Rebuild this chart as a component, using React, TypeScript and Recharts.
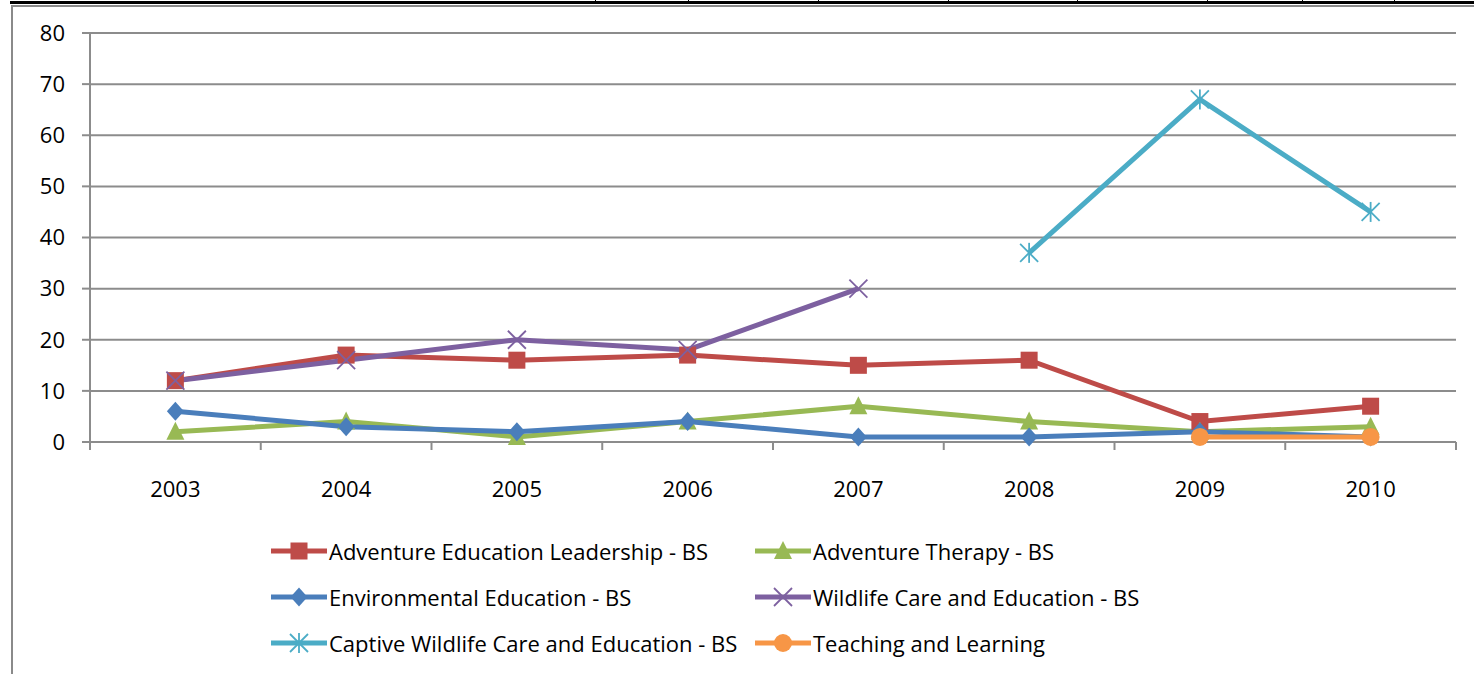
import { LineChart, Line, XAxis, YAxis, CartesianGrid, Legend } from "recharts";

const years = ["2003", "2004", "2005", "2006", "2007", "2008", "2009", "2010"];
const adventureLeadership = [12, 17, 16, 17, 15, 16, 4, 7];
const adventureTherapy = [2, 4, 1, 4, 7, 4, 2, 3];
const environmentalEd = [6, 3, 2, 4, 1, 1, 2, 1];
const wildlifeCare = [12, 16, 20, 18, 30, null, null, null];
const captiveWildlife = [null, null, null, null, null, 37, 67, 45];
const teachingLearning = [null, null, null, null, null, null, 1, 1];
const yTicks = [0, 10, 20, 30, 40, 50, 60, 70, 80];
const tableMarks = [595, 688, 818, 948, 1077, 1207, 1302, 1394];

const FONT = "'Open Sans', Lato, sans-serif";
const GRID = "#8c8c8c";

type Marker = "square" | "triangle" | "diamond" | "x" | "star" | "circle";

const series: { key: string; name: string; color: string; marker: Marker; values: (number | null)[] }[] = [
  { key: "ael", name: "Adventure Education Leadership - BS", color: "#BE4B48", marker: "square", values: adventureLeadership },
  { key: "at", name: "Adventure Therapy - BS", color: "#98B954", marker: "triangle", values: adventureTherapy },
  { key: "ee", name: "Environmental Education - BS", color: "#4A7EBB", marker: "diamond", values: environmentalEd },
  { key: "wce", name: "Wildlife Care and Education - BS", color: "#7D60A0", marker: "x", values: wildlifeCare },
  { key: "cwce", name: "Captive Wildlife Care and Education - BS", color: "#4BACC6", marker: "star", values: captiveWildlife },
  { key: "tl", name: "Teaching and Learning", color: "#F79646", marker: "circle", values: teachingLearning },
];

const data = years.map((year, i) => {
  const row: Record<string, string | number | null> = { year };
  series.forEach((s) => {
    row[s.key] = s.values[i];
  });
  return row;
});

function MarkerShape({ cx, cy, color, marker }: { cx: number; cy: number; color: string; marker: Marker }) {
  switch (marker) {
    case "square":
      return <rect x={cx - 8.5} y={cy - 8.5} width={17} height={17} fill={color} />;
    case "triangle":
      return <polygon points={`${cx},${cy - 10} ${cx + 9},${cy + 8} ${cx - 9},${cy + 8}`} fill={color} />;
    case "diamond":
      return <polygon points={`${cx},${cy - 9.5} ${cx + 8.5},${cy} ${cx},${cy + 9.5} ${cx - 8.5},${cy}`} fill={color} />;
    case "x":
      return (
        <g stroke={color} strokeWidth={1.8}>
          <line x1={cx - 9} y1={cy - 9} x2={cx + 9} y2={cy + 9} />
          <line x1={cx - 9} y1={cy + 9} x2={cx + 9} y2={cy - 9} />
        </g>
      );
    case "star":
      return (
        <g stroke={color} strokeWidth={1.8}>
          <line x1={cx - 9} y1={cy - 9} x2={cx + 9} y2={cy + 9} />
          <line x1={cx - 9} y1={cy + 9} x2={cx + 9} y2={cy - 9} />
          <line x1={cx} y1={cy - 10} x2={cx} y2={cy + 10} />
        </g>
      );
    default:
      return <circle cx={cx} cy={cy} r={9} fill={color} />;
  }
}

function makeDot(color: string, marker: Marker) {
  return (props: any) => {
    const { cx, cy, value, index } = props;
    if (value == null || cx == null || cy == null) return <g key={`e-${index}`} />;
    return (
      <g key={`d-${index}`}>
        <MarkerShape cx={cx} cy={cy} color={color} marker={marker} />
      </g>
    );
  };
}

// category label plus Excel-style tick marks on the band edges
function YearTick(props: any) {
  const { x, y, payload, index } = props;
  const half = payload?.offset ?? 0;
  const axisY = y - 39;
  return (
    <g>
      <line x1={x - half} y1={axisY} x2={x - half} y2={axisY + 8} stroke={GRID} strokeWidth={2} />
      {index === years.length - 1 && (
        <line x1={x + half} y1={axisY} x2={x + half} y2={axisY + 8} stroke={GRID} strokeWidth={2} />
      )}
      <text x={x} y={y} dy="0.71em" textAnchor="middle" fill="#000" fontSize={22} fontFamily={FONT}>
        {payload.value}
      </text>
    </g>
  );
}

function LegendContent() {
  return (
    <div
      style={{
        display: "grid",
        gridTemplateColumns: "484px auto",
        gridAutoRows: "46px",
        paddingLeft: 271,
        fontFamily: FONT,
        fontSize: 22,
        color: "#000",
      }}
    >
      {series.map((s) => (
        <div key={s.key} style={{ display: "flex", alignItems: "center", height: 46 }}>
          <svg width={58} height={24}>
            <line x1={0} y1={12} x2={56} y2={12} stroke={s.color} strokeWidth={5} />
            <MarkerShape cx={28} cy={12} color={s.color} marker={s.marker} />
          </svg>
          <span style={{ whiteSpace: "nowrap" }}>{s.name}</span>
        </div>
      ))}
    </div>
  );
}

export default function App() {
  return (
    <div style={{ position: "absolute", left: 0, top: 0, width: 1474, height: 674, overflow: "hidden", background: "#fff" }}>
      <div style={{ position: "absolute", left: 10, top: 1, right: 0, height: 3, background: "#000" }} />
      {tableMarks.map((x) => (
        <div key={x} style={{ position: "absolute", left: x, top: 0, width: 1, height: 2, background: "#000" }} />
      ))}
      <div
        style={{
          position: "absolute",
          left: 11,
          top: 5,
          width: 1474,
          height: 700,
          borderTop: "2px solid #8a8a8a",
          borderLeft: "2px solid #8a8a8a",
        }}
      />
      <div style={{ position: "absolute", left: 0, top: 0 }}>
        <LineChart width={1474} height={674} data={data} margin={{ top: 33, right: 18, bottom: 172, left: 0 }}>
          <CartesianGrid horizontal vertical={false} stroke={GRID} strokeWidth={2} />
          <XAxis
            dataKey="year"
            scale="band"
            height={60}
            axisLine={{ stroke: GRID, strokeWidth: 2 }}
            tickLine={false}
            tickSize={0}
            tickMargin={39}
            interval={0}
            tick={<YearTick />}
          />
          <YAxis
            domain={[0, 80]}
            ticks={yTicks}
            width={90}
            axisLine={{ stroke: GRID, strokeWidth: 2 }}
            tickLine={{ stroke: GRID, strokeWidth: 2 }}
            tickSize={8}
            tickMargin={17}
            tick={{ fill: "#000", fontSize: 22, fontFamily: FONT }}
          />
          <Legend
            layout="vertical"
            align="center"
            verticalAlign="middle"
            wrapperStyle={{ top: 528, left: 0, width: 1474 }}
            content={() => <LegendContent />}
          />
          {series.map((s) => (
            <Line
              key={s.key}
              dataKey={s.key}
              name={s.name}
              stroke={s.color}
              strokeWidth={5}
              type="linear"
              dot={makeDot(s.color, s.marker)}
              activeDot={false}
              isAnimationActive={false}
            />
          ))}
        </LineChart>
      </div>
    </div>
  );
}
